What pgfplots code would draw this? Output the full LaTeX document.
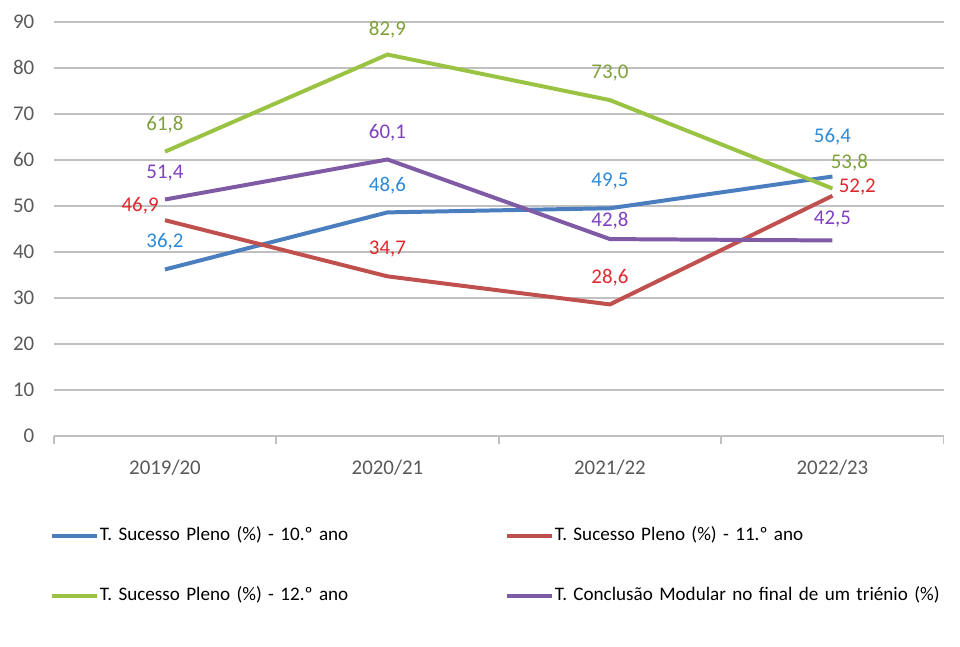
\documentclass[border=0pt]{standalone}
\usepackage{pgfplots}
\pgfplotsset{compat=1.18}
\usepackage{pgfplotstable}
\usepackage{fontspec}
\setmainfont{Carlito}
\definecolor{lblue}{HTML}{4A7EBF}
\definecolor{lred}{HTML}{C0504D}
\definecolor{lgreen}{HTML}{9BC343}
\definecolor{lpurple}{HTML}{7F5BA6}
\definecolor{tblue}{HTML}{2E8AD8}
\definecolor{tred}{HTML}{E0282E}
\definecolor{tgreen}{HTML}{7FA03A}
\definecolor{tpurple}{HTML}{8040BF}
\definecolor{gridc}{HTML}{C0C0C0}
\definecolor{tickc}{HTML}{595959}

\pgfplotstableread{
x y dx dy
0 36.2 0 14
1 48.6 0 13.5
2 49.5 0 13.5
3 56.4 0 20
}\tA
\pgfplotstableread{
x y dx dy
0 46.9 -12.5 7.5
1 34.7 0 13.5
2 28.6 0 13.5
3 52.2 12.5 4.5
}\tB
\pgfplotstableread{
x y dx dy
0 61.8 0 13.5
1 82.9 0 12.5
2 73.0 0 13.5
3 53.8 8.5 13
}\tC
\pgfplotstableread{
x y dx dy
0 51.4 0 13.5
1 60.1 0 13.5
2 42.8 0 9
3 42.5 0 11
}\tD

\begin{document}
\begin{tikzpicture}
\path (-27pt,-105.5pt) rectangle (453pt,219pt);
\begin{axis}[
  at={(0,0)}, anchor=south west,
  scale only axis, width=447pt, height=208pt,
  xmin=-0.5, xmax=3.5, ymin=0, ymax=90,
  ytick={0,10,...,90},
  xtick={0,1,2,3},
  xticklabels={2019/20,2020/21,2021/22,2022/23},
  minor xtick={-0.5,0.5,1.5,2.5,3.5},
  major x tick style={draw=none},
  minor x tick style={draw=gridc, line width=0.8pt},
  minor tick length=4pt,
  tick align=outside,
  axis lines*=left,
  x axis line style={draw=gridc, line width=0.8pt, -},
  y axis line style={draw=none},
  ytick style={draw=none},
  ymajorgrids, grid style={draw=gridc, line width=0.9pt},
  tick label style={font=\fontsize{10.5}{12}\selectfont, text=tickc},
  yticklabel style={xshift=-2pt},
  xticklabel style={yshift=-4pt},
  /pgf/number format/assume math mode=true,
  clip=false,
  legend columns=2,
  legend style={at={(0,0)}, anchor=north west, xshift=-2pt, yshift=-45pt,
    draw=none, fill=none, inner sep=0pt,
    font=\fontsize{9.6}{12}\selectfont,
    nodes={text width=203pt, align=left, text height=7pt, text depth=2pt, inner sep=0.5pt, anchor=west},
    /tikz/every odd column/.style={column sep=0pt},
    row sep=20pt},
  legend cell align=left,
  legend image code/.code={\draw[#1] (0pt,0pt) -- (22.5pt,0pt);},
  every axis plot/.append style={line width=2pt},
  visualization depends on={\thisrow{dx} \as \dx},
  visualization depends on={\thisrow{dy} \as \dy},
  nodes near coords={\pgfmathprintnumber[fixed,fixed zerofill,precision=1,use comma]{\pgfplotspointmeta}},
  nodes near coords style={anchor=center, xshift=\dx pt, yshift=\dy pt, font=\fontsize{10.5}{12}\selectfont},
  point meta=explicit,
]
\addplot[lblue, mark=none, nodes near coords style={text=tblue}] table[x=x,y=y,meta=y] {\tA};
\addlegendentry{T. Sucesso Pleno (\%) - 10.º ano}
\addplot[lred, mark=none, nodes near coords style={text=tred}] table[x=x,y=y,meta=y] {\tB};
\addlegendentry{T. Sucesso Pleno (\%) - 11.º ano}
\addplot[lgreen, mark=none, nodes near coords style={text=tgreen}] table[x=x,y=y,meta=y] {\tC};
\addlegendentry{T. Sucesso Pleno (\%) - 12.º ano}
\addplot[lpurple, mark=none, nodes near coords style={text=tpurple}] table[x=x,y=y,meta=y] {\tD};
\addlegendentry{T. Conclusão Modular no final de um triénio (\%)}
\end{axis}
\end{tikzpicture}
\end{document}
